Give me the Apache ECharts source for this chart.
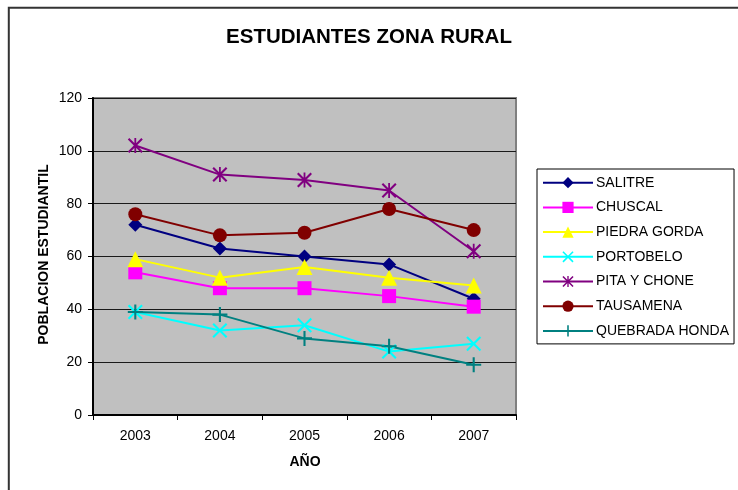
<!DOCTYPE html>
<html>
<head>
<meta charset="utf-8">
<style>
  html, body { margin: 0; padding: 0; background: #ffffff; }
  #chart { width: 738px; height: 490px; }
</style>
<script src="https://cdn.jsdelivr.net/npm/echarts@6/dist/echarts.min.js"></script>
</head>
<body>
<div id="chart"></div>
<script>
// Rural-zone student population per school, 2003-2007
const years = ['2003', '2004', '2005', '2006', '2007'];
const yTicks = { min: 0, max: 120, interval: 20 };

const salitre       = [72, 63, 60, 57, 44];
const chuscal       = [54, 48, 48, 45, 41];
const piedraGorda   = [59, 52, 56, 52, 49];
const portobelo     = [39, 32, 34, 24, 27];
const pitaYChone    = [102, 91, 89, 85, 62];
const tausamena     = [76, 68, 69, 78, 70];
const quebradaHonda = [39, 38, 29, 26, 19];

const FONT = '"Liberation Sans", Arial, sans-serif';

// Filled outline shapes for the stroke-style markers
const SYM_X = 'path://M0 10L10 0L50 40L90 0L100 10L60 50L100 90L90 100L50 60L10 100L0 90L40 50Z';
const SYM_STAR = 'path://M0 10L10 0L50 40L90 0L100 10L60 50L100 90L90 100L50 60L10 100L0 90L40 50Z M44 0L56 0L56 100L44 100Z';
const SYM_PLUS = 'path://M43 0H57V43H100V57H57V100H43V57H0V43H43Z';

const seriesDefs = [
  { name: 'SALITRE',        data: salitre,       color: '#000080', symbol: 'diamond',  size: 14 },
  { name: 'CHUSCAL',        data: chuscal,       color: '#FF00FF', symbol: 'rect',     size: 14 },
  { name: 'PIEDRA GORDA',   data: piedraGorda,   color: '#FFFF00', symbol: 'triangle', size: 16 },
  { name: 'PORTOBELO',      data: portobelo,     color: '#00FFFF', symbol: SYM_X,      size: 15 },
  { name: 'PITA Y CHONE',   data: pitaYChone,    color: '#800080', symbol: SYM_STAR,   size: 15 },
  { name: 'TAUSAMENA',      data: tausamena,     color: '#800000', symbol: 'circle',   size: 14 },
  { name: 'QUEBRADA HONDA', data: quebradaHonda, color: '#008080', symbol: SYM_PLUS,   size: 15 }
];

const chart = echarts.init(document.getElementById('chart'), null, { renderer: 'canvas' });

chart.setOption({
  animation: false,
  backgroundColor: '#ffffff',
  textStyle: { fontFamily: FONT },
  title: {
    text: 'ESTUDIANTES ZONA RURAL',
    left: 'center',
    top: 27,
    padding: 0,
    textStyle: { fontFamily: FONT, fontSize: 20.5, fontWeight: 'bold', color: '#000000' }
  },
  grid: {
    left: 93, top: 98, right: 222, bottom: 75,
    show: true,
    backgroundColor: '#C0C0C0',
    borderColor: '#808080',
    borderWidth: 2,
    outerBoundsMode: 'none'
  },
  legend: {
    orient: 'vertical',
    left: 537, top: 169,
    padding: [6.7, 5, 6, 5],
    itemWidth: 50, itemHeight: 14, itemGap: 10.7,
    backgroundColor: '#ffffff',
    borderColor: '#000000', borderWidth: 1,
    borderRadius: 0,
    selectedMode: false,
    textStyle: { fontFamily: FONT, fontSize: 14, color: '#000000', padding: [0, 0, 0, -2] },
    data: seriesDefs.map(s => s.name)
  },
  xAxis: {
    type: 'category',
    data: years,
    boundaryGap: true,
    axisLine: { lineStyle: { color: '#000000', width: 2 } },
    axisTick: { show: true, length: 5, inside: false, lineStyle: { color: '#000000', width: 1 } },
    axisLabel: { margin: 14, fontFamily: FONT, fontSize: 14, color: '#000000' },
    splitLine: { show: false }
  },
  yAxis: {
    type: 'value',
    min: yTicks.min, max: yTicks.max, interval: yTicks.interval,
    axisLine: { show: true, lineStyle: { color: '#000000', width: 2 } },
    axisTick: { show: true, length: 5, inside: false, lineStyle: { color: '#000000', width: 1 } },
    axisLabel: { margin: 11, fontFamily: FONT, fontSize: 14, color: '#000000' },
    splitLine: { show: true, lineStyle: { color: '#1a1a1a', width: 1 } }
  },
  graphic: [
    {
      type: 'rect', silent: true, z: 100,
      shape: { x: 8.8, y: 7.7, width: 900, height: 700 },
      style: { fill: 'none', stroke: '#333333', lineWidth: 2 }
    },
    {
      type: 'text', silent: true,
      x: 44.5, y: 254.5, rotation: Math.PI / 2,
      style: {
        text: 'POBLACION ESTUDIANTIL',
        font: 'bold 14px ' + FONT,
        fill: '#000000', textAlign: 'center', textVerticalAlign: 'middle'
      }
    },
    {
      type: 'text', silent: true,
      x: 305, y: 462,
      style: {
        text: 'AÑO',
        font: 'bold 14px ' + FONT,
        fill: '#000000', textAlign: 'center', textVerticalAlign: 'middle'
      }
    }
  ],
  series: seriesDefs.map(s => ({
    name: s.name,
    type: 'line',
    data: s.data,
    symbol: s.symbol,
    symbolSize: s.size,
    showSymbol: true,
    showAllSymbol: true,
    silent: true,
    lineStyle: { color: s.color, width: 2 },
    itemStyle: { color: s.color, borderWidth: 0 },
    emphasis: { disabled: true }
  }))
});
</script>
</body>
</html>
